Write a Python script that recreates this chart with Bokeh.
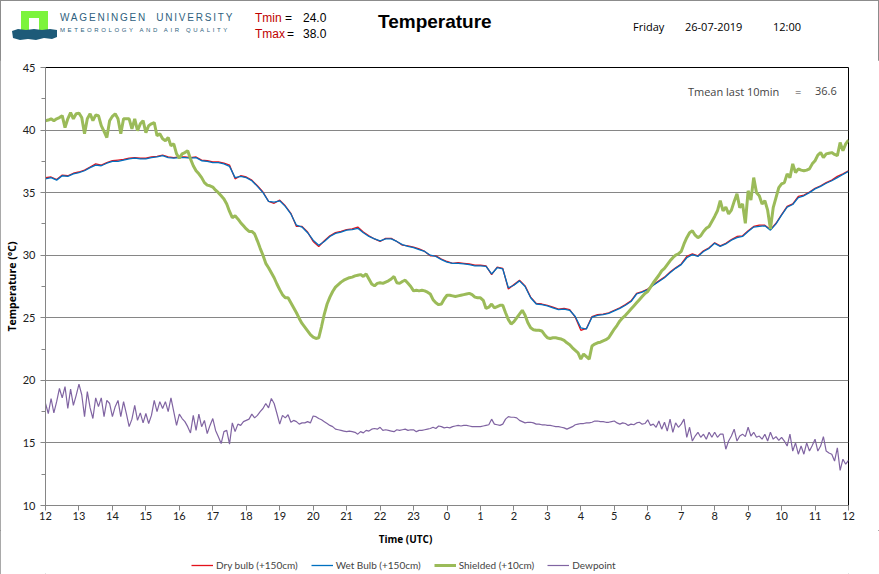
import numpy as np
from bokeh.plotting import figure
from bokeh.layouts import column
from bokeh.models import Range1d, FixedTicker, SingleIntervalTicker, Legend, LegendItem, Label, Div
from bokeh.core.properties import value
from bokeh.embed import file_html
from bokeh.resources import INLINE

# x axis: hours since 12:00 UTC on the previous day
hour_labels = ["12", "13", "14", "15", "16", "17", "18", "19", "20", "21", "22", "23",
               "0", "1", "2", "3", "4", "5", "6", "7", "8", "9", "10", "11", "12"]

# 10-minute samples
wet_bulb = [36.1, 36.2, 36.0, 36.35, 36.3, 36.5,
            36.6, 36.75, 37.0, 37.2, 37.15, 37.35,
            37.5, 37.5, 37.6, 37.7, 37.75, 37.7,
            37.7, 37.8, 37.85, 37.95, 37.8, 37.75,
            37.8, 37.8, 37.75, 37.8, 37.55, 37.5,
            37.4, 37.4, 37.3, 37.1, 36.2, 36.3,
            36.2, 35.95, 35.5, 35.0, 34.3, 34.25,
            34.35, 33.9, 33.3, 32.4, 32.25, 31.8,
            31.2, 30.8, 31.1, 31.5, 31.75, 31.85,
            32.0, 32.05, 32.15, 31.8, 31.5, 31.3,
            31.15, 31.3, 31.3, 31.1, 30.85, 30.7,
            30.6, 30.45, 30.3, 30.0, 29.9, 29.65,
            29.45, 29.35, 29.35, 29.3, 29.25, 29.15,
            29.15, 29.1, 28.5, 29.0, 28.9, 27.4,
            27.6, 27.95, 27.5, 26.6, 26.1, 26.05,
            25.95, 25.8, 25.65, 25.7, 25.6, 25.1,
            24.2, 24.1, 25.05, 25.2, 25.25, 25.35,
            25.55, 25.75, 26.0, 26.3, 26.9, 27.05,
            27.25, 27.6, 27.9, 28.2, 28.6, 28.95,
            29.25, 29.8, 30.05, 29.9, 30.3, 30.55,
            30.95, 30.7, 30.9, 31.2, 31.4, 31.5,
            31.9, 32.25, 32.3, 32.35, 32.0, 32.5,
            33.2, 33.85, 34.05, 34.6, 34.75, 35.0,
            35.3, 35.5, 35.75, 35.95, 36.2, 36.45,
            36.7]

dry_bulb = [36.2, 36.25, 36.05, 36.4, 36.35, 36.55,
            36.65, 36.8, 37.05, 37.3, 37.2, 37.4,
            37.55, 37.6, 37.65, 37.75, 37.8, 37.75,
            37.75, 37.85, 37.9, 38.0, 37.85, 37.8,
            37.85, 37.85, 37.8, 37.85, 37.6, 37.55,
            37.45, 37.45, 37.35, 37.2, 36.1, 36.35,
            36.25, 36.0, 35.55, 35.05, 34.3, 34.15,
            34.4, 33.95, 33.35, 32.3, 32.3, 31.85,
            31.1, 30.7, 31.15, 31.55, 31.8, 31.9,
            32.05, 32.1, 32.25, 31.85, 31.55, 31.3,
            31.1, 31.35, 31.35, 31.1, 30.8, 30.75,
            30.65, 30.5, 30.3, 29.95, 29.95, 29.7,
            29.5, 29.35, 29.4, 29.35, 29.3, 29.2,
            29.2, 29.15, 28.45, 29.05, 28.95, 27.3,
            27.65, 28.0, 27.55, 26.65, 26.15, 26.1,
            26.0, 25.85, 25.7, 25.75, 25.65, 25.05,
            24.0, 24.15, 25.1, 25.25, 25.3, 25.4,
            25.6, 25.8, 26.05, 26.35, 26.95, 27.1,
            27.3, 27.65, 27.95, 28.25, 28.65, 29.0,
            29.3, 29.9, 30.1, 29.95, 30.35, 30.6,
            31.0, 30.75, 30.95, 31.25, 31.5, 31.55,
            31.95, 32.3, 32.4, 32.4, 32.05, 32.55,
            33.25, 33.9, 34.1, 34.7, 34.8, 35.05,
            35.35, 35.55, 35.8, 36.0, 36.3, 36.5,
            36.75]

# 5-minute samples
shielded = [40.75, 40.8, 40.9, 40.75, 40.9, 41.0, 41.15, 40.2, 40.9, 41.4, 40.9, 41.3,
            41.35, 41.0, 39.7, 40.9, 41.3, 40.75, 41.2, 41.15, 40.35, 39.9, 39.4, 40.75,
            41.1, 41.3, 40.9, 39.7, 40.9, 40.9, 40.9, 40.1, 40.9, 39.95, 40.5, 40.75,
            39.8, 40.35, 40.5, 40.6, 39.55, 39.7, 39.3, 39.15, 39.4, 38.75, 38.9, 38.1,
            37.75, 38.1, 38.2, 38.35, 37.7, 37.15, 36.75, 36.5, 36.2, 35.8, 35.6, 35.55,
            35.45, 35.2, 35.0, 34.75, 34.5, 34.1, 33.5, 33.0, 33.15, 32.9, 32.6, 32.35,
            32.1, 31.9, 31.9, 31.7, 31.15, 30.55, 30.0, 29.35, 29.0, 28.6, 28.2, 27.7,
            27.25, 26.85, 26.6, 26.6, 26.2, 25.8, 25.4, 24.95, 24.55, 24.25, 23.95, 23.65,
            23.45, 23.35, 23.4, 24.3, 25.3, 26.1, 26.65, 27.1, 27.45, 27.65, 27.85, 28.0,
            28.1, 28.2, 28.25, 28.35, 28.4, 28.45, 28.3, 28.5, 28.1, 27.7, 27.55, 27.75,
            27.8, 27.75, 27.85, 27.95, 28.1, 28.3, 27.8, 27.75, 27.9, 28.0, 27.75, 27.5,
            27.15, 27.2, 27.15, 27.2, 27.15, 27.05, 26.9, 26.45, 26.2, 26.05, 26.1, 26.5,
            26.8, 26.8, 26.75, 26.7, 26.75, 26.8, 26.85, 26.9, 26.95, 26.85, 26.65, 26.6,
            26.6, 26.4, 25.75, 25.85, 26.1, 25.8, 25.9, 26.0, 26.0, 25.4, 24.85, 24.5,
            24.7, 25.0, 25.3, 25.6, 25.2, 24.6, 24.2, 24.05, 24.0, 24.0, 23.95, 23.65,
            23.4, 23.35, 23.4, 23.4, 23.35, 23.3, 23.2, 23.0, 22.85, 22.6, 22.4, 22.2,
            21.7, 22.1, 21.9, 21.7, 22.75, 22.9, 23.0, 23.05, 23.15, 23.25, 23.4, 23.75,
            24.1, 24.4, 24.75, 25.0, 25.2, 25.45, 25.7, 25.95, 26.2, 26.45, 26.7, 26.95,
            27.1, 27.45, 27.8, 28.1, 28.4, 28.75, 28.95, 29.25, 29.55, 29.8, 30.0, 30.1,
            30.3, 30.9, 31.4, 31.8, 31.95, 31.6, 31.4, 31.55, 31.9, 32.15, 32.3, 32.7,
            33.1, 33.55, 34.35, 33.55, 33.85, 33.3, 33.6, 34.3, 34.9, 33.8, 34.1, 32.55,
            35.15, 34.4, 36.2, 35.0, 34.75, 34.1, 34.35, 33.6, 32.1, 33.8, 34.6, 35.4,
            35.7, 35.8, 36.5, 36.2, 37.3, 36.6, 36.9, 36.8, 36.75, 36.8, 36.9, 37.3,
            37.55, 38.0, 38.2, 37.8, 38.1, 38.15, 38.2, 38.05, 37.95, 39.0, 38.35, 38.9,
            39.2]

dewpoint = [18.15, 17.35, 18.55, 17.4, 18.3, 19.35, 18.6, 19.5, 17.75, 19.3, 18.0, 18.8,
            19.7, 18.85, 17.1, 19.1, 17.8, 16.95, 18.6, 17.9, 18.6, 17.1, 18.4, 18.15,
            17.1, 17.9, 18.4, 17.1, 18.3, 17.35, 16.3, 16.9, 18.0, 16.8, 17.4, 16.6,
            17.35, 16.55, 17.2, 18.4, 17.5, 18.3, 17.75, 18.3, 17.5, 18.6, 17.5, 16.4,
            17.3, 16.95, 16.7, 16.3, 15.8, 17.2, 16.0, 17.3, 16.3, 16.8, 15.75, 16.4,
            16.95, 16.0, 15.5, 14.95, 15.9, 16.0, 14.9, 16.6, 15.9, 16.5, 16.4, 16.7,
            16.8, 16.9, 17.3, 17.0, 17.2, 17.5, 17.75, 18.15, 17.8, 18.55, 18.15, 17.35,
            16.5, 17.2, 17.0, 17.25, 16.65, 16.8, 16.7, 16.5, 16.6, 16.6, 16.7, 16.6,
            17.15, 17.1, 16.95, 16.85, 16.7, 16.55, 16.4, 16.3, 16.1, 16.05, 16.0, 15.95,
            15.9, 15.95, 15.9, 15.85, 15.7, 15.9, 15.8, 16.0, 15.95, 16.1, 16.15, 16.1,
            16.25, 16.0, 16.05, 16.0, 15.95, 15.9, 16.05, 16.0, 16.05, 16.1, 16.0, 16.05,
            16.05, 15.9, 16.0, 16.0, 16.05, 16.1, 16.15, 16.25, 16.15, 16.35, 16.3, 16.2,
            16.25, 16.2, 16.3, 16.35, 16.4, 16.35, 16.4, 16.4, 16.35, 16.3, 16.3, 16.3,
            16.3, 16.35, 16.4, 16.45, 16.9, 16.5, 16.45, 16.4, 16.5, 16.9, 17.1, 17.05,
            17.05, 17.0, 16.8, 16.7, 16.6, 16.65, 16.65, 16.6, 16.5, 16.5, 16.45, 16.45,
            16.4, 16.4, 16.35, 16.3, 16.3, 16.25, 16.2, 16.1, 16.2, 16.3, 16.45, 16.5,
            16.55, 16.55, 16.6, 16.6, 16.65, 16.75, 16.75, 16.7, 16.7, 16.65, 16.65, 16.7,
            16.75, 16.6, 16.5, 16.6, 16.55, 16.4, 16.5, 16.45, 16.6, 16.65, 16.5, 16.55,
            16.85, 16.4, 16.5, 16.25, 16.75, 16.1, 16.65, 15.95, 16.9, 15.85, 16.6, 16.25,
            16.5, 16.9, 15.45, 16.25, 15.15, 15.55, 15.85, 15.45, 15.7, 15.3, 15.85, 15.45,
            15.85, 15.45, 15.7, 15.7, 14.5, 15.15, 15.55, 16.1, 15.15, 15.55, 15.7, 15.5,
            16.25, 15.55, 15.85, 15.45, 15.55, 15.3, 15.7, 15.15, 15.85, 15.3, 15.5, 15.2,
            15.45, 15.15, 14.75, 15.7, 14.35, 15.0, 14.1, 14.75, 14.1, 15.0, 14.35, 14.8,
            15.3, 14.35, 14.75, 15.5, 14.35, 14.2, 14.1, 13.55, 14.6, 12.8, 13.7, 13.3,
            13.6]

t_min, t_max, t_mean = "24.0", "38.0", "36.6"
day, date, clock = "Friday", "26-07-2019", "12:00"

t10 = np.arange(len(wet_bulb)) / 6.0
t5 = np.arange(len(shielded)) / 12.0

styles = {
    "Dry bulb (+150cm)": dict(color="#e3121b", line_width=1.3),
    "Wet Bulb (+150cm)": dict(color="#0070c0", line_width=1.3),
    "Shielded (+10cm)": dict(color="#9bbb59", line_width=3),
    "Dewpoint": dict(color="#8064a2", line_width=1.2),
}

# ---- header strip
def span(left, top, txt, size, color="black", extra=""):
    return (f'<span style="position:absolute;left:{left}px;top:{top}px;font-size:{size}px;'
            f'line-height:{size}px;color:{color};white-space:nowrap;{extra}">{txt}</span>')

header_html = (
    '<div style="position:relative;width:879px;height:60px;'
    'font-family:\'Liberation Sans\',Arial,sans-serif;">'
    '<div style="position:absolute;left:21px;top:11px;width:27px;height:20px;background:#7cf43c;"></div>'
    '<div style="position:absolute;left:29px;top:18px;width:10px;height:13px;background:#ffffff;"></div>'
    '<svg style="position:absolute;left:0px;top:0px;" width="70" height="50">'
    '<polygon points="12,31 18,29 26,30 34,29 42,30 50,29 57,30 57,37 52,39 44,38 36,40 28,39 20,40 13,38" '
    'fill="#1d5a78"/></svg>'
    + span(60, 13, "WAGENINGEN&nbsp; UNIVERSITY", 10, "#2f5f7e", "letter-spacing:1.8px;")
    + span(60, 27, "METEOROLOGY AND AIR QUALITY", 6, "#2f5f7e", "letter-spacing:2.6px;")
    + span(255, 12, "Tmin", 12, "#c00000") + span(285, 12, "=", 12) + span(303, 12, t_min, 12)
    + span(255, 28, "Tmax", 12, "#c00000") + span(287, 28, "=", 12) + span(303, 28, t_max, 12)
    + span(378, 12, "Temperature", 19, "black", "font-weight:bold;")
    + span(633, 21, day, 11, "black", "font-family:'Open Sans';")
    + span(685, 21, date, 11, "black", "font-family:'Open Sans';")
    + span(773, 21, clock, 11, "black", "font-family:'Open Sans';")
    + '</div>')
head = Div(text=header_html, width=879, height=60, margin=0)

# ---- main chart
p = figure(width=879, height=470, x_range=Range1d(0, 24), y_range=Range1d(10, 45),
           toolbar_location=None, output_backend="svg",
           min_border_left=45, min_border_right=31, min_border_top=7, min_border_bottom=25)

renderers = {}
renderers["Dry bulb (+150cm)"] = p.line(t10, dry_bulb, **styles["Dry bulb (+150cm)"])
renderers["Wet Bulb (+150cm)"] = p.line(t10, wet_bulb, **styles["Wet Bulb (+150cm)"])
renderers["Shielded (+10cm)"] = p.line(t5, shielded, **styles["Shielded (+10cm)"])
renderers["Dewpoint"] = p.line(t5, dewpoint, **styles["Dewpoint"])

p.outline_line_color = "black"
p.xgrid.visible = False
p.ygrid.grid_line_color = "#868686"

p.xaxis.ticker = FixedTicker(ticks=list(range(25)))
p.xaxis.major_label_overrides = {i: lab for i, lab in enumerate(hour_labels)}
p.yaxis.ticker = SingleIntervalTicker(interval=5, num_minor_ticks=2)
p.yaxis.axis_label = "Temperature (°C)"
for ax in (p.xaxis, p.yaxis):
    ax.axis_line_color = "#868686"
    ax.major_tick_line_color = "#868686"
    ax.minor_tick_line_color = "#868686"
    ax.major_tick_out = 5
    ax.major_tick_in = 0
    ax.minor_tick_out = 4
    ax.minor_tick_in = 0
    ax.major_label_text_font = "Lato"
    ax.major_label_text_font_size = "11px"
    ax.major_label_text_color = "#202020"
    ax.axis_label_text_font = "Open Sans"
    ax.axis_label_text_font_size = "10.5px"
    ax.axis_label_text_font_style = "bold"
    ax.axis_label_text_color = "black"
p.xaxis.minor_tick_line_color = None
p.xaxis.major_label_standoff = 1
p.yaxis.major_label_standoff = 5
p.yaxis.axis_label_standoff = 1

p.add_layout(Label(x=19.2, y=43.1, text="Tmean last 10min", text_font="Open Sans",
                   text_font_size="11px", text_baseline="middle"))
p.add_layout(Label(x=22.4, y=43.1, text="=", text_font="Open Sans",
                   text_font_size="11px", text_baseline="middle"))
p.add_layout(Label(x=23.0, y=43.1, text=t_mean, text_font="Open Sans",
                   text_font_size="11px", text_baseline="middle"))

# ---- footer: axis title and legend
foot = figure(width=879, height=44, x_range=Range1d(0, 24), y_range=Range1d(44, 0),
              x_axis_type=None, y_axis_type=None, toolbar_location=None,
              output_backend="svg", min_border_left=45, min_border_right=31,
              min_border_top=0, min_border_bottom=0)
foot.grid.visible = False
foot.outline_line_color = None
foot.text(x=[10.76], y=[8], text=["Time (UTC)"], text_font=value("Open Sans"),
          text_font_size="10px", text_font_style="bold", text_align="center",
          text_baseline="middle", text_color="black")

items = []
for name, st in styles.items():
    r = foot.line([np.nan], [np.nan], **st)
    items.append(LegendItem(label=name, renderers=[r]))
legend = Legend(items=items, orientation="horizontal", location=(146, 3))
legend.label_text_font = "Lato"
legend.label_text_font_size = "10px"
legend.glyph_width = 22
legend.glyph_height = 10
legend.label_height = 12
legend.label_standoff = 3
legend.spacing = 13
legend.padding = 2
legend.margin = 0
legend.border_line_color = None
legend.background_fill_alpha = 0
foot.add_layout(legend)

page = column(head, p, foot, spacing=0,
              styles={"outline": "1px solid #8c8c8c", "outline-offset": "-1px"})
open("out.html", "w").write(file_html(page, INLINE))
